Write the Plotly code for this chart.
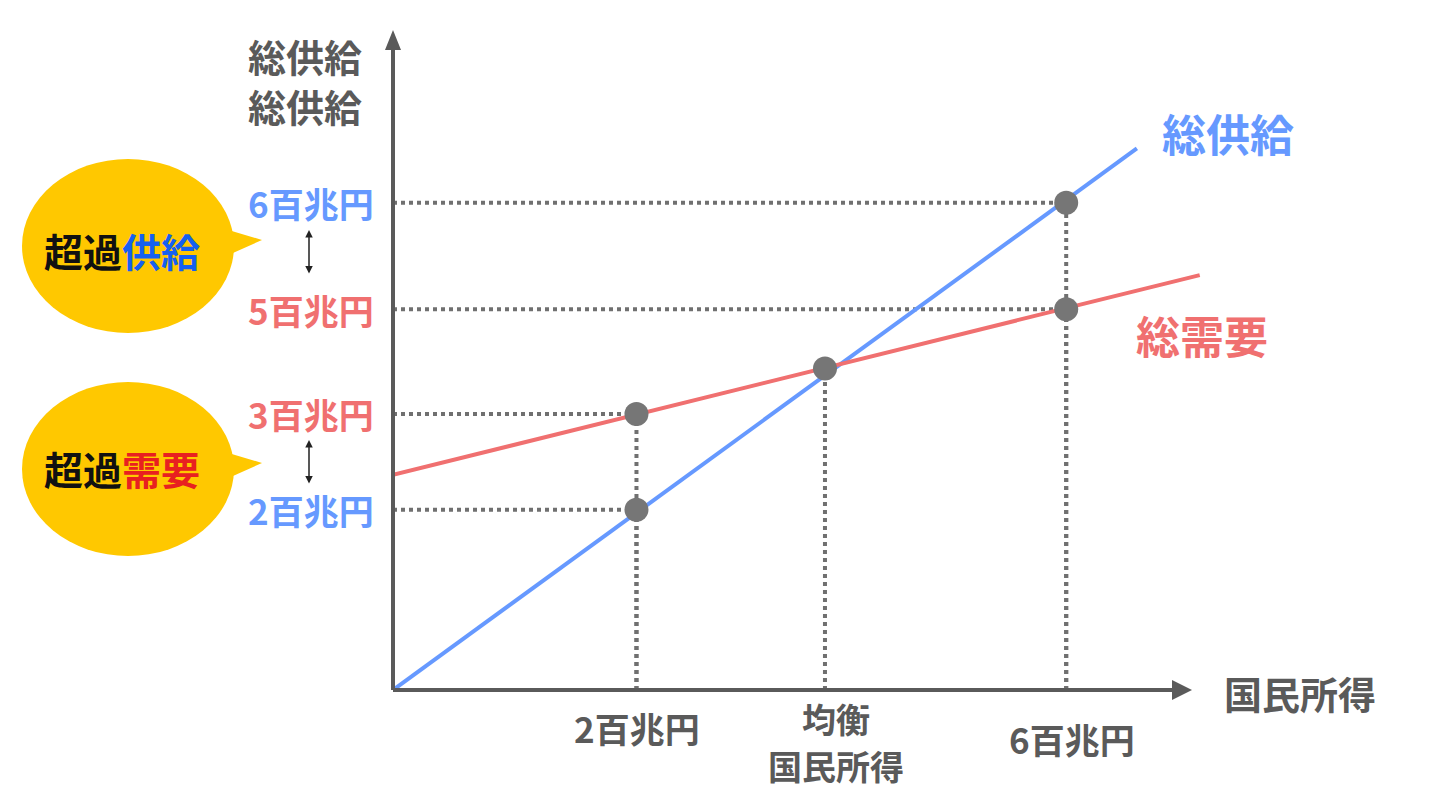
import plotly.graph_objects as go

W, H = 1433, 794
OFF = 8  # page body offset
ML, MR, MT, MB = 393 - OFF, 182 + OFF, 20 - OFF, 104 + OFF
PW, PH = W - ML - MR, H - MT - MB
SX, SY = 112.2, 81.2
XMAX = PW / SX
YMAX = PH / SY

supply_x = [0, 6.63]
supply_y = [0, 6.67]
demand_x = [0, 7.19]
demand_y = [2.65, 5.11]
points_x = [2.17, 2.17, 3.85, 6.0, 6.0]
points_y = [2.22, 3.40, 3.96, 6.0, 4.69]
hline = [True, True, False, True, True]
y_ticks = [6.0, 4.69, 3.40, 2.22]
y_labels = ["6百兆円", "5百兆円", "3百兆円", "2百兆円"]
y_colors = ["#6699FF", "#F07070", "#F07070", "#6699FF"]

GRAY = "#5a5a5a"
BLUE = "#6699FF"
RED = "#F07070"
FONT = "Noto Sans CJK JP"

def px(x):
    return (x - OFF - ML) / PW

def py(y):
    return (H - MB - (y - OFF)) / PH

fig = go.Figure()
fig.add_trace(go.Scatter(x=supply_x, y=supply_y, mode="lines", line=dict(color=BLUE, width=4), hoverinfo="skip"))
fig.add_trace(go.Scatter(x=demand_x, y=demand_y, mode="lines", line=dict(color=RED, width=4), hoverinfo="skip"))

shapes = []
for xv, yv, h in zip(points_x, points_y, hline):
    if h:
        shapes.append(dict(type="line", x0=0, x1=xv, y0=yv, y1=yv, xref="x", yref="y",
                           line=dict(color="#707070", width=4, dash="dot"), layer="below"))
    shapes.append(dict(type="line", x0=xv, x1=xv, y0=0, y1=yv, xref="x", yref="y",
                       line=dict(color="#707070", width=4, dash="dot"), layer="below"))
fig.add_trace(go.Scatter(x=points_x, y=points_y, mode="markers",
                         marker=dict(color="#767676", size=24), hoverinfo="skip"))

shapes.append(dict(type="line", xref="paper", yref="paper", x0=0, x1=px(1180), y0=0, y1=0,
                   line=dict(color=GRAY, width=4)))
shapes.append(dict(type="line", xref="paper", yref="paper", x0=0, x1=0, y0=0, y1=py(42),
                   line=dict(color=GRAY, width=4)))
shapes.append(dict(type="path", xref="paper", yref="paper",
                   path=f"M {px(1172)} {py(680)} L {px(1192)} {py(690)} L {px(1172)} {py(700)} Z",
                   fillcolor=GRAY, line=dict(width=0)))
shapes.append(dict(type="path", xref="paper", yref="paper",
                   path=f"M {px(385)} {py(50)} L {px(393)} {py(30)} L {px(401)} {py(50)} Z",
                   fillcolor=GRAY, line=dict(width=0)))

for cy in (246, 469):
    shapes.append(dict(type="path", xref="paper", yref="paper",
                       path=f"M {px(215)} {py(cy-20)} L {px(262)} {py(cy-6)} L {px(215)} {py(cy+15)} Z",
                       fillcolor="#FFC800", line=dict(width=0)))
    shapes.append(dict(type="circle", xref="paper", yref="paper",
                       x0=px(22), x1=px(234), y0=py(cy-87), y1=py(cy+87),
                       fillcolor="#FFC800", line=dict(width=0)))

ann = []
def text(x, y, s, color=GRAY, size=30, anchor="center"):
    ann.append(dict(xref="paper", yref="paper", x=px(x), y=py(y), text=s, showarrow=False,
                    font=dict(family=FONT, size=size, color=color), xanchor=anchor, yanchor="middle"))

for v, lab, c in zip(y_ticks, y_labels, y_colors):
    ann.append(dict(xref="paper", yref="y", x=px(376), y=v, text=f"<b>{lab}</b>", showarrow=False,
                    xanchor="right", yanchor="middle", font=dict(family=FONT, size=35, color=c)))

text(305, 55, "<b>総供給</b>", GRAY, 38)
text(305, 105, "<b>総供給</b>", GRAY, 38)
text(1228, 133, "<b>総供給</b>", BLUE, 44)
text(1202, 335, "<b>総需要</b>", RED, 44)
text(1300, 692, "<b>国民所得</b>", GRAY, 38)
text(637, 727, "<b>2百兆円</b>", GRAY, 35)
text(1072, 738, "<b>6百兆円</b>", GRAY, 35)
text(836, 718, "<b>均衡</b>", GRAY, 34)
text(836, 765, "<b>国民所得</b>", GRAY, 34)
text(122, 250, "<b>超過<span style='color:#1560F0'>供給</span></b>", "#111111", 39)
text(122, 468, "<b>超過<span style='color:#E82020'>需要</span></b>", "#111111", 39)

for y0, y1 in ((230, 275), (440, 485)):
    ann.append(dict(xref="paper", yref="paper", x=px(309), y=py(y0), ax=0, ay=y1 - y0,
                    axref="pixel", ayref="pixel", text="", showarrow=True, arrowhead=2,
                    arrowside="end+start", arrowsize=1, arrowwidth=1.5, arrowcolor="#222222"))

fig.update_layout(
    width=W, height=H, margin=dict(l=ML, r=MR, t=MT, b=MB),
    plot_bgcolor="white", paper_bgcolor="white", showlegend=False,
    xaxis=dict(range=[0, XMAX], visible=False),
    yaxis=dict(range=[0, YMAX], visible=False),
    shapes=shapes, annotations=ann,
)
fig.write_html("out.html")
